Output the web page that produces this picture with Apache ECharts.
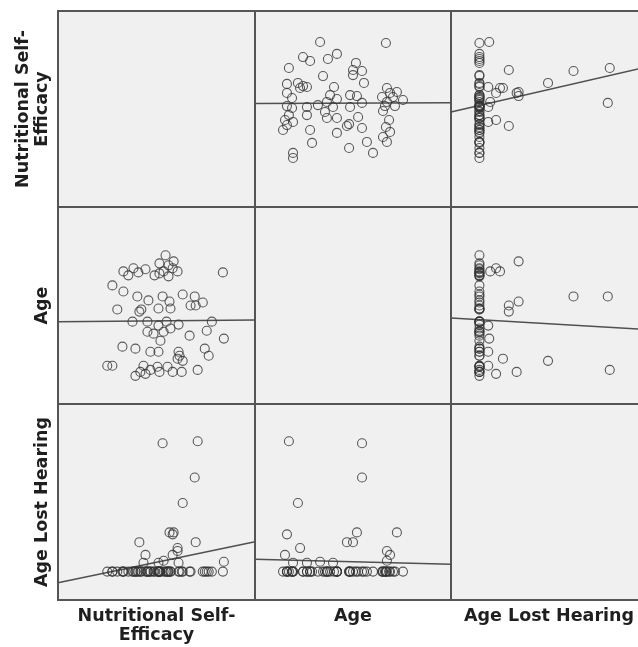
<!DOCTYPE html>
<html>
<head>
<meta charset="utf-8">
<script src="https://cdn.jsdelivr.net/npm/echarts@6/dist/echarts.min.js"></script>
<style>
html,body{margin:0;padding:0;background:#fff;}
#chart{width:638px;height:647px;}
</style>
</head>
<body>
<div id="chart"></div>
<script>
// Variable labels (matrix order)
const variableNames = ['Nutritional Self-\nEfficacy', 'Age', 'Age Lost Hearing'];

// Respondent values (one entry per respondent, same order in each array)
const nutritionalSelfEfficacy = [84.2,83.7,76.5,74.5,75.5,78.1,70.9,73.5,69.9,69.4,67.3,66.8,63.3,62.8,63.3,61.7,61.2,60.7,61.2,58.2,55.6,60.7,58.2,58.7,56.1,56.1,54.6,53.6,51.5,57.1,56.6,53.1,51.0,57.1,55.1,53.6,52.0,51.0,51.5,50.5,51.0,46.9,48.5,45.4,46.9,44.4,43.4,41.8,39.3,45.4,42.3,41.3,45.9,40.3,49.0,51.5,44.4,40.8,38.3,35.7,33.2,39.3,37.8,32.7,30.1,33.2,27.6,27.6,25.0];
const age = [33.2,66.8,24.5,28.1,37.2,41.8,17.3,51.5,50.0,54.6,50.0,34.7,55.6,16.3,21.9,24.5,26.5,23.0,40.3,16.3,18.9,67.3,68.9,72.4,64.8,70.4,75.5,67.3,71.4,48.5,52.0,54.6,48.5,38.3,41.8,36.7,32.1,39.8,16.3,18.9,26.5,26.5,35.7,36.7,17.3,15.3,19.4,16.3,14.3,41.8,48.0,46.9,52.6,54.6,65.3,66.3,68.4,66.8,68.9,65.3,67.3,28.1,41.8,29.1,48.0,57.1,60.2,19.4,19.4];
const ageLostHearing = [5,0,0,0,0,0,66.5,0,15,48,0,0,0,0,35,0,4.5,12,0,19,0,10.5,8.5,20,0,0,0,5.5,0,0,20,65.5,0,0,0,0,0,4.5,0,0,0,0,0,0,0,8.5,4.5,0,0,0,0,15,0,0,0,0,0,0,0,0,0,0,0,0,0,0,0,0,0];

// Axis extents per variable
const axisMin = [0, 0, -14.5];
const axisMax = [100, 100, 85.5];

// Fit lines: [[x at min, y],[x at max, y]]
const fitAgeVsNse   = [[0, 52.8], [100, 53.2]];     // row NSE, col Age
const fitAlhVsNse   = [[-14.5, 48.5], [85.5, 71.5]]; // row NSE, col ALH
const fitNseVsAge   = [[0, 41.8], [100, 42.6]];     // row Age, col NSE
const fitAlhVsAge   = [[-14.5, 43.7], [85.5, 37.8]]; // row Age, col ALH
const fitNseVsAlh   = [[0, -5.7], [100, 15.2]];     // row ALH, col NSE
const fitAgeVsAlh   = [[0, 6.3], [100, 3.7]];       // row ALH, col Age
const fits = {'0-1': fitAgeVsNse, '0-2': fitAlhVsNse, '1-0': fitNseVsAge, '1-2': fitAlhVsAge, '2-0': fitNseVsAlh, '2-1': fitAgeVsAlh};

const vars = [nutritionalSelfEfficacy, age, ageLostHearing];

const colLeft = [58, 255, 451];
const colWidth = [197, 196, 196];
const rowTop = [11, 207, 404];
const rowHeight = [196, 197, 196];

const nameStyle = {
  fontFamily: 'DejaVu Sans',
  fontWeight: 'bold',
  fontSize: 17.5,
  lineHeight: 19,
  color: '#1f1f1f'
};

const grids = [], xAxes = [], yAxes = [], series = [];
for (let i = 0; i < 3; i++) {
  for (let j = 0; j < 3; j++) {
    const g = i * 3 + j;
    grids.push({
      left: colLeft[j], top: rowTop[i], width: colWidth[j], height: rowHeight[i],
      show: true, backgroundColor: '#f0f0f0', borderColor: '#555555', borderWidth: 2,
      containLabel: false, outerBoundsMode: 'none'
    });
    xAxes.push({
      type: 'value', gridIndex: g, min: axisMin[j], max: axisMax[j],
      axisLine: {show: false}, axisTick: {show: false}, axisLabel: {show: false}, splitLine: {show: false},
      name: i === 2 ? variableNames[j] : '', nameLocation: 'middle', nameGap: 7, nameTextStyle: nameStyle
    });
    yAxes.push({
      type: 'value', gridIndex: g, min: axisMin[i], max: axisMax[i],
      axisLine: {show: false}, axisTick: {show: false}, axisLabel: {show: false}, splitLine: {show: false},
      name: j === 0 ? variableNames[i] : '', nameLocation: 'middle', nameGap: 6, nameTextStyle: nameStyle
    });
    if (i !== j) {
      const pts = vars[j].map((v, k) => [v, vars[i][k]]);
      series.push({
        type: 'scatter', xAxisIndex: g, yAxisIndex: g, data: pts,
        symbol: 'circle', symbolSize: 9,
        itemStyle: {color: 'rgba(0,0,0,0)', borderColor: '#333333', borderWidth: 1.1},
        silent: true, z: 3
      });
      series.push({
        type: 'line', xAxisIndex: g, yAxisIndex: g, data: fits[i + '-' + j],
        symbol: 'none', lineStyle: {color: '#505050', width: 1.5}, silent: true, z: 2
      });
    }
  }
}

const chart = echarts.init(document.getElementById('chart'), null, {renderer: 'canvas'});
chart.setOption({
  animation: false,
  backgroundColor: '#ffffff',
  grid: grids,
  xAxis: xAxes,
  yAxis: yAxes,
  series: series
});
</script>
</body>
</html>
